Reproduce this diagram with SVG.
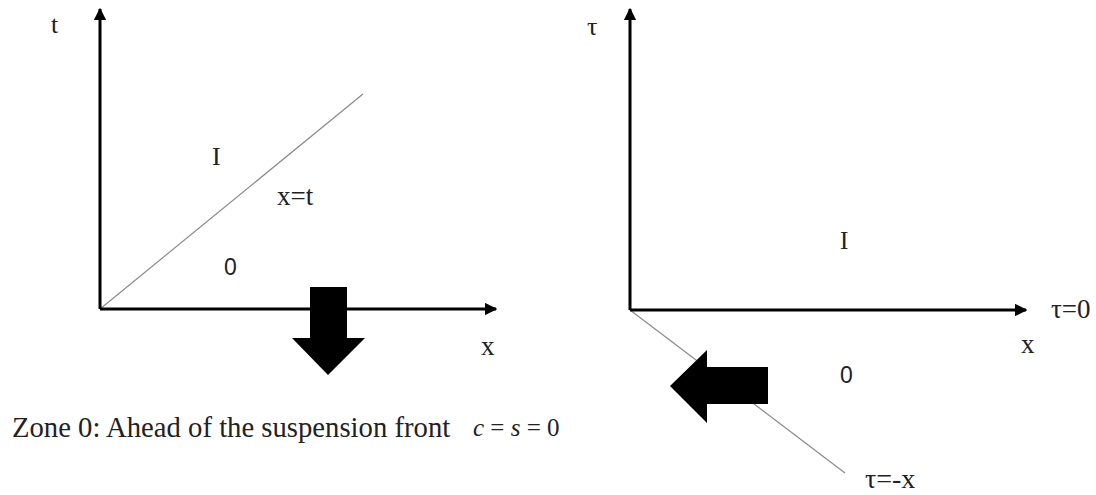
<svg xmlns="http://www.w3.org/2000/svg" width="1096" height="495" viewBox="0 0 1096 495">
<style>
.axis{stroke:#000;stroke-width:3;fill:none}
.front{stroke:#8a8a8a;stroke-width:1.2;fill:none}
.serif{font-family:"Liberation Serif","Times New Roman",serif;fill:#222}
.sans{font-family:"Liberation Sans",Arial,sans-serif;fill:#222}
.big{fill:#000}
</style>
<defs>
<marker id="ah" viewBox="0 0 10 10" refX="9" refY="5" markerWidth="4.2" markerHeight="4.2" orient="auto" markerUnits="strokeWidth">
<path d="M0,0 L10,5 L0,10 z" fill="#000"/>
</marker>
</defs>
<rect width="1096" height="495" fill="#fff"/>
<g id="connectors">
<line class="front" x1="100" y1="309" x2="363" y2="94"/>
<line class="front" x1="630" y1="310" x2="845" y2="473"/>
<line class="axis" x1="100" y1="309" x2="100" y2="9" marker-end="url(#ah)"/>
<line class="axis" x1="100" y1="309" x2="496" y2="309" marker-end="url(#ah)"/>
<line class="axis" x1="630" y1="310" x2="630" y2="9" marker-end="url(#ah)"/>
<line class="axis" x1="630" y1="310" x2="1026" y2="310" marker-end="url(#ah)"/>
</g>
<g id="left-plot">
<text class="serif" x="51" y="33" font-size="26">t</text>
<text class="serif" x="481" y="355" font-size="27">x</text>
<text class="serif" x="212" y="165" font-size="26">I</text>
<text class="serif" x="277" y="205" font-size="27">x=t</text>
<text class="sans" x="224" y="275" font-size="23">0</text>
</g>
<g id="down-arrow">
<path class="big" d="M310,287 H347 V338 H365 L328,375 L292,338 H310 Z"/>
</g>
<g id="right-plot">
<text class="serif" x="587" y="35" font-size="26">τ</text>
<text class="serif" x="1051" y="318" font-size="27">τ=0</text>
<text class="serif" x="1021" y="353" font-size="27">x</text>
<text class="serif" x="840" y="249" font-size="25">I</text>
<text class="sans" x="840" y="383" font-size="23">0</text>
<text class="serif" x="865" y="488" font-size="28">τ=-x</text>
</g>
<g id="left-arrow">
<path class="big" d="M768,367 V404 H707 V423 L670,386 L707,350 V367 Z"/>
</g>
<g id="caption">
<text class="serif" x="12" y="437" font-size="28.7">Zone 0: Ahead of the suspension front</text>
<text class="serif" x="473" y="436" font-size="25"><tspan font-style="italic">c</tspan> = <tspan font-style="italic">s</tspan> = 0</text>
</g>
</svg>
